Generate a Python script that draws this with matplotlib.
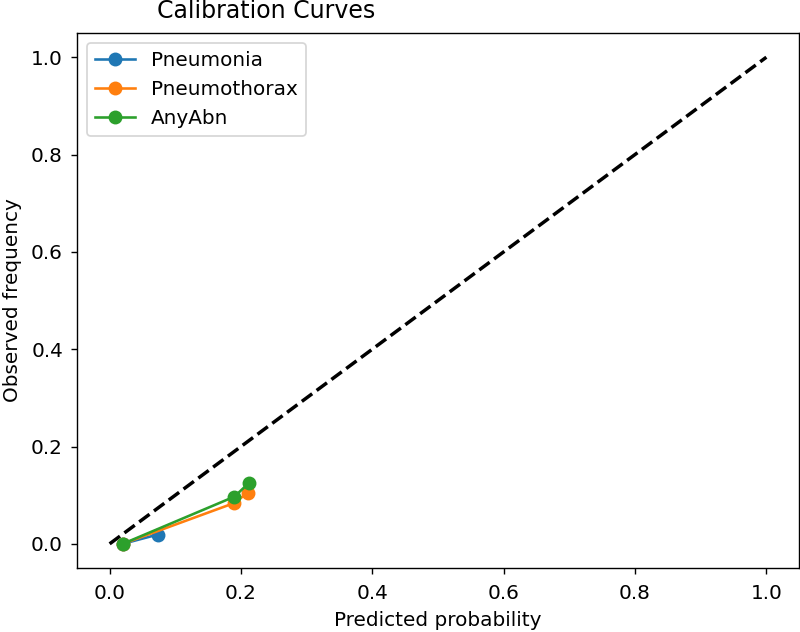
import matplotlib
matplotlib.use("Agg")
import matplotlib.pyplot as plt

# calibration points
pneumonia_pred = [0.02, 0.073]
pneumonia_obs = [0.0, 0.019]
pneumothorax_pred = [0.02, 0.19, 0.21]
pneumothorax_obs = [0.0, 0.084, 0.105]
anyabn_pred = [0.02, 0.19, 0.212]
anyabn_obs = [0.0, 0.097, 0.125]
diag = [0.0, 1.0]

plt.rcParams['font.size'] = 11.5

# the reference is a default-style figure scaled up
fig = plt.figure(figsize=(6.4, 5.056), dpi=125)
ax = fig.add_axes([0.096, 0.101, 0.903, 0.847])

ax.plot(diag, diag, 'k--', linewidth=2)
ax.plot(pneumonia_pred, pneumonia_obs, marker='o', markersize=7, label='Pneumonia')
ax.plot(pneumothorax_pred, pneumothorax_obs, marker='o', markersize=7, label='Pneumothorax')
ax.plot(anyabn_pred, anyabn_obs, marker='o', markersize=7, label='AnyAbn')

ax.tick_params(axis='x', pad=5.5)
ax.tick_params(axis='y', pad=4.5)
ax.set_xlabel("Predicted probability", labelpad=5)
ax.set_ylabel("Observed frequency", labelpad=5)
ax.legend(loc='upper left')

# title is partly cut off at the top, as in the cropped reference
fig.text(0.196, 0.9715, "Calibration Curves", fontsize=13.6, ha='left', va='baseline')

fig.savefig("out.png", dpi=125)
